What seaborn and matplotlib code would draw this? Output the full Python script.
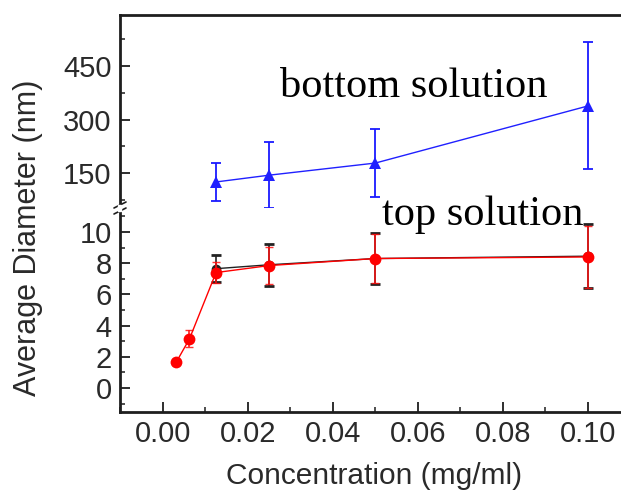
import matplotlib
matplotlib.use("Agg")
import matplotlib.pyplot as plt
from matplotlib.ticker import MultipleLocator
import numpy as np
import pandas as pd
import seaborn as sns

# Concentrations (mg/ml)
conc_top = [0.003125, 0.00625, 0.0125, 0.025, 0.05, 0.1]
conc_bottom = [0.0125, 0.025, 0.05, 0.1]

# Average diameter of the top solution (nm) and its spread
top_diam = [1.65, 3.15, 7.4, 7.85, 8.3, 8.4]
top_err = [0.2, 0.55, 0.7, 1.2, 1.6, 2.0]

# Repeat measurement of the top solution (nm)
top_rep_diam = [7.65, 7.9, 8.3, 8.45]
top_rep_err = [0.85, 1.35, 1.65, 2.05]

# Average diameter of the bottom solution (nm) and its spread
bottom_diam = [125, 144, 178, 338]
bottom_err = [53, 92, 95, 178]

sns.set_theme(style="ticks")
plt.rcParams["font.family"] = ["Liberation Sans", "DejaVu Sans"]

W, H = 621, 492
fig = plt.figure(figsize=(W / 100, H / 100), dpi=100)

left = 120 / W
right = 1.0
y_top, y_break, y_bot = 15, 208, 412
ax_hi = fig.add_axes([left, 1 - y_break / H, right - left, (y_break - y_top) / H])
ax_lo = fig.add_axes([left, 1 - y_bot / H, right - left, (y_bot - y_break) / H], sharex=ax_hi)

df_top = pd.DataFrame({"c": conc_top, "d": top_diam})
df_rep = pd.DataFrame({"c": conc_bottom, "d": top_rep_diam})
df_bot = pd.DataFrame({"c": conc_bottom, "d": bottom_diam})

# lower panel: top solution
ax_lo.errorbar(conc_bottom, top_rep_diam, yerr=top_rep_err, fmt="none",
               ecolor="#222222", elinewidth=1.2, capsize=3.5, capthick=2.0, zorder=2)
sns.lineplot(data=df_rep, x="c", y="d", ax=ax_lo, color="#222222", lw=1.0,
             marker="o", markersize=7, markeredgewidth=0, zorder=2)
ax_lo.errorbar(conc_top, top_diam, yerr=top_err, fmt="none",
               ecolor="#ff1010", elinewidth=1.3, capsize=3, capthick=1.0, zorder=3, alpha=0.85)
sns.lineplot(data=df_top, x="c", y="d", ax=ax_lo, color="#ff0000", lw=1.0,
             marker="o", markersize=8.5, markeredgewidth=0, zorder=4)

# upper panel: bottom solution
ax_hi.errorbar(conc_bottom, bottom_diam, yerr=bottom_err, fmt="none",
               ecolor="#1a1aff", elinewidth=1.3, capsize=3.5, capthick=1.3, zorder=3)
sns.lineplot(data=df_bot, x="c", y="d", ax=ax_hi, color="#2020ff", lw=1.0,
             marker="^", markersize=8.5, markeredgewidth=0, zorder=4)

ax_lo.set_xlim(-0.0101, 0.1078)
ax_lo.set_ylim(-1.54, 11.54)
ax_hi.set_ylim(52, 593)

ax_lo.xaxis.set_major_locator(MultipleLocator(0.02))
ax_lo.xaxis.set_minor_locator(MultipleLocator(0.01))
ax_lo.yaxis.set_major_locator(MultipleLocator(2))
ax_lo.yaxis.set_minor_locator(MultipleLocator(1))
ax_hi.yaxis.set_major_locator(MultipleLocator(150))
ax_hi.yaxis.set_minor_locator(MultipleLocator(75))
ax_lo.xaxis.set_major_formatter(plt.FuncFormatter(lambda v, p: f"{v:.2f}"))

txt_col = "#2a2a2a"
spine_col = "#1e1e1e"
for ax in (ax_hi, ax_lo):
    ax.set_facecolor("white")
    ax.spines["right"].set_visible(False)
    for s in ax.spines.values():
        s.set_linewidth(2.0)
        s.set_color(spine_col)
    ax.tick_params(axis="both", which="major", direction="in", length=7, width=1.3,
                   colors=spine_col, labelcolor=txt_col, labelsize=21, pad=6)
    ax.tick_params(axis="both", which="minor", direction="in", length=3.5, width=1.1,
                   colors=spine_col)
    ax.tick_params(axis="y", which="both", left=True, right=False)
    ax.set_xlabel("")
    ax.set_ylabel("")

ax_hi.spines["bottom"].set_visible(False)
ax_lo.spines["top"].set_visible(False)
ax_hi.tick_params(axis="x", which="both", bottom=False, top=False, labelbottom=False)
ax_lo.tick_params(axis="x", which="both", bottom=True, top=False)

# break marks on the left spine
for dy in (-3, 3):
    yy = y_break + dy
    fig.add_artist(plt.Line2D([left - 6 / W, left + 6 / W],
                              [1 - (yy + 3) / H, 1 - (yy - 3) / H],
                              color=spine_col, lw=1.2))
fig.add_artist(plt.Rectangle((left - 1.5 / W, 1 - (y_break + 3) / H), 3 / W, 6 / H,
                             color="white", zorder=5))

fig.text((120 + 501 / 2 + 4) / W, 1 - 490 / H, "Concentration (mg/ml)", fontsize=21.5,
         color=txt_col, ha="center", va="bottom")
fig.text(28 / W, 1 - 238 / H, "Average Diameter (nm)", rotation=90, fontsize=22,
         color=txt_col, ha="center", va="center")

ax_hi.text(0.0275, 363, "bottom solution", family="Liberation Serif", fontsize=30.5,
           color="black", va="baseline")
ax_lo.text(0.0515, 10.45, "top solution", family="Liberation Serif", fontsize=30.5,
           color="black", va="baseline")

fig.savefig("out.png", dpi=100, facecolor="white")
